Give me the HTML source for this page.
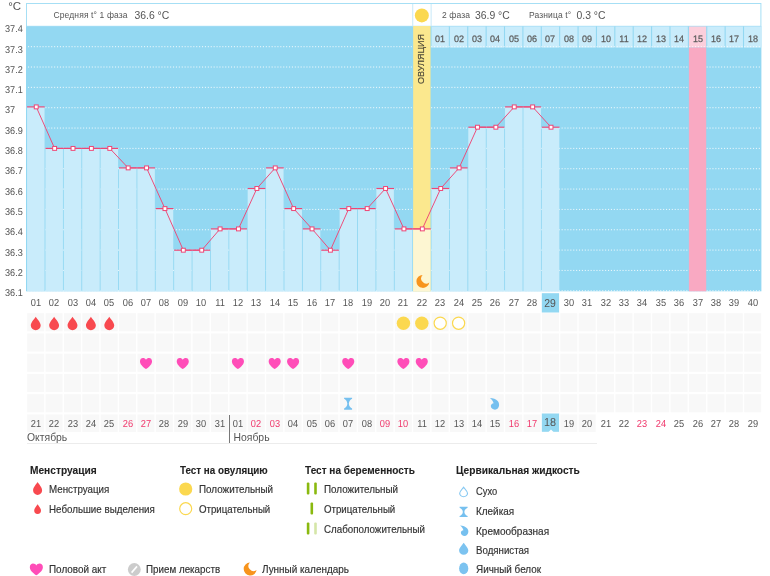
<!DOCTYPE html>
<html><head><meta charset="utf-8"><title>chart</title>
<style>
html,body{margin:0;padding:0;background:#fff;}
body{width:770px;height:576px;position:relative;overflow:hidden;font-family:"Liberation Sans",sans-serif;color:#555;}
.t{position:absolute;white-space:nowrap;line-height:1;}
#tx{position:absolute;left:0;top:0;width:770px;height:576px;will-change:transform;}
.c{position:absolute;white-space:nowrap;line-height:1;text-align:center;width:30px;margin-left:-15px;transform:scaleX(0.91) rotate(0.03deg);}
.yl{font-size:9.9px;left:5.2px;color:#555;transform:scaleX(0.925) rotate(0.03deg);transform-origin:0 50%;}
.dn{font-size:10.2px;color:#555;}
.red{color:#f0386c;}
.lg{font-size:11px;color:#333;-webkit-text-stroke:0.18px #333;transform:scaleX(0.893);transform-origin:0 50%;}
.lh{font-size:11px;font-weight:bold;color:#222;-webkit-text-stroke:0.1px #222;transform:scaleX(0.905);transform-origin:0 50%;}
</style></head><body>
<svg width="770" height="576" viewBox="0 0 770 576" style="position:absolute;left:0;top:0">
<rect x="26.5" y="3.5" width="734.4" height="22.8" fill="#fff" stroke="#a6dff5" stroke-width="1"/>
<rect x="26" y="26.3" width="735.4" height="265.0" fill="#93d8f2"/>
<rect x="431.52" y="26.5" width="17.29" height="21.1" fill="#c9ecfb"/>
<rect x="449.91" y="26.5" width="17.29" height="21.1" fill="#c9ecfb"/>
<rect x="468.29" y="26.5" width="17.29" height="21.1" fill="#c9ecfb"/>
<rect x="486.68" y="26.5" width="17.29" height="21.1" fill="#c9ecfb"/>
<rect x="505.06" y="26.5" width="17.29" height="21.1" fill="#c9ecfb"/>
<rect x="523.45" y="26.5" width="17.29" height="21.1" fill="#c9ecfb"/>
<rect x="541.83" y="26.5" width="17.29" height="21.1" fill="#c9ecfb"/>
<rect x="560.22" y="26.5" width="17.29" height="21.1" fill="#c9ecfb"/>
<rect x="578.60" y="26.5" width="17.29" height="21.1" fill="#c9ecfb"/>
<rect x="596.99" y="26.5" width="17.29" height="21.1" fill="#c9ecfb"/>
<rect x="615.37" y="26.5" width="17.29" height="21.1" fill="#c9ecfb"/>
<rect x="633.75" y="26.5" width="17.29" height="21.1" fill="#c9ecfb"/>
<rect x="652.14" y="26.5" width="17.29" height="21.1" fill="#c9ecfb"/>
<rect x="670.52" y="26.5" width="17.29" height="21.1" fill="#c9ecfb"/>
<rect x="688.91" y="26.5" width="17.29" height="21.1" fill="#fccfdc"/>
<rect x="707.29" y="26.5" width="17.29" height="21.1" fill="#c9ecfb"/>
<rect x="725.68" y="26.5" width="17.29" height="21.1" fill="#c9ecfb"/>
<rect x="744.07" y="26.5" width="17.33" height="21.1" fill="#c9ecfb"/>
<line x1="28" x2="761.4" y1="46.69" y2="46.69" stroke="#fff" stroke-width="1" stroke-dasharray="1.1 1.8" opacity="0.85"/>
<line x1="28" x2="761.4" y1="67.03" y2="67.03" stroke="#fff" stroke-width="1" stroke-dasharray="1.1 1.8" opacity="0.85"/>
<line x1="28" x2="761.4" y1="87.37" y2="87.37" stroke="#fff" stroke-width="1" stroke-dasharray="1.1 1.8" opacity="0.85"/>
<line x1="28" x2="761.4" y1="107.71" y2="107.71" stroke="#fff" stroke-width="1" stroke-dasharray="1.1 1.8" opacity="0.85"/>
<line x1="28" x2="761.4" y1="128.05" y2="128.05" stroke="#fff" stroke-width="1" stroke-dasharray="1.1 1.8" opacity="0.85"/>
<line x1="28" x2="761.4" y1="148.39" y2="148.39" stroke="#fff" stroke-width="1" stroke-dasharray="1.1 1.8" opacity="0.85"/>
<line x1="28" x2="761.4" y1="168.73" y2="168.73" stroke="#fff" stroke-width="1" stroke-dasharray="1.1 1.8" opacity="0.85"/>
<line x1="28" x2="761.4" y1="189.07" y2="189.07" stroke="#fff" stroke-width="1" stroke-dasharray="1.1 1.8" opacity="0.85"/>
<line x1="28" x2="761.4" y1="209.41" y2="209.41" stroke="#fff" stroke-width="1" stroke-dasharray="1.1 1.8" opacity="0.85"/>
<line x1="28" x2="761.4" y1="229.75" y2="229.75" stroke="#fff" stroke-width="1" stroke-dasharray="1.1 1.8" opacity="0.85"/>
<line x1="28" x2="761.4" y1="250.09" y2="250.09" stroke="#fff" stroke-width="1" stroke-dasharray="1.1 1.8" opacity="0.85"/>
<line x1="28" x2="761.4" y1="270.43" y2="270.43" stroke="#fff" stroke-width="1" stroke-dasharray="1.1 1.8" opacity="0.85"/>
<line x1="28" x2="761.4" y1="290.77" y2="290.77" stroke="#fff" stroke-width="1" stroke-dasharray="1.1 1.8" opacity="0.85"/>
<rect x="688.91" y="47.6" width="17.29" height="243.70000000000002" fill="#f9a9c2"/>
<rect x="413.14" y="26" width="17.39" height="265.3" fill="#fbe88e"/>
<rect x="27.05" y="106.90" width="17.49" height="184.40" fill="#c9ecfb"/>
<rect x="45.44" y="148.40" width="17.49" height="142.90" fill="#c9ecfb"/>
<rect x="63.82" y="148.40" width="17.49" height="142.90" fill="#c9ecfb"/>
<rect x="82.20" y="148.40" width="17.49" height="142.90" fill="#c9ecfb"/>
<rect x="100.59" y="148.40" width="17.49" height="142.90" fill="#c9ecfb"/>
<rect x="118.98" y="167.90" width="17.49" height="123.40" fill="#c9ecfb"/>
<rect x="137.36" y="167.90" width="17.49" height="123.40" fill="#c9ecfb"/>
<rect x="155.75" y="208.60" width="17.49" height="82.70" fill="#c9ecfb"/>
<rect x="174.13" y="250.20" width="17.49" height="41.10" fill="#c9ecfb"/>
<rect x="192.52" y="250.20" width="17.49" height="41.10" fill="#c9ecfb"/>
<rect x="210.90" y="228.90" width="17.49" height="62.40" fill="#c9ecfb"/>
<rect x="229.29" y="228.90" width="17.49" height="62.40" fill="#c9ecfb"/>
<rect x="247.67" y="188.50" width="17.49" height="102.80" fill="#c9ecfb"/>
<rect x="266.06" y="167.90" width="17.49" height="123.40" fill="#c9ecfb"/>
<rect x="284.44" y="208.60" width="17.49" height="82.70" fill="#c9ecfb"/>
<rect x="302.83" y="228.90" width="17.49" height="62.40" fill="#c9ecfb"/>
<rect x="321.21" y="250.20" width="17.49" height="41.10" fill="#c9ecfb"/>
<rect x="339.60" y="208.60" width="17.49" height="82.70" fill="#c9ecfb"/>
<rect x="357.98" y="208.60" width="17.49" height="82.70" fill="#c9ecfb"/>
<rect x="376.37" y="188.50" width="17.49" height="102.80" fill="#c9ecfb"/>
<rect x="394.75" y="228.90" width="17.49" height="62.40" fill="#c9ecfb"/>
<rect x="413.14" y="228.90" width="17.39" height="62.40" fill="#fdf6d2"/>
<rect x="431.52" y="188.50" width="17.49" height="102.80" fill="#c9ecfb"/>
<rect x="449.91" y="167.90" width="17.49" height="123.40" fill="#c9ecfb"/>
<rect x="468.29" y="127.20" width="17.49" height="164.10" fill="#c9ecfb"/>
<rect x="486.68" y="127.20" width="17.49" height="164.10" fill="#c9ecfb"/>
<rect x="505.06" y="106.90" width="17.49" height="184.40" fill="#c9ecfb"/>
<rect x="523.45" y="106.90" width="17.49" height="184.40" fill="#c9ecfb"/>
<rect x="541.83" y="127.20" width="17.49" height="164.10" fill="#c9ecfb"/>
<line x1="27.05" x2="44.73" y1="106.90" y2="106.90" stroke="#ee4675" stroke-width="1.15"/>
<line x1="45.44" x2="63.12" y1="148.40" y2="148.40" stroke="#ee4675" stroke-width="1.15"/>
<line x1="63.82" x2="81.50" y1="148.40" y2="148.40" stroke="#ee4675" stroke-width="1.15"/>
<line x1="82.20" x2="99.89" y1="148.40" y2="148.40" stroke="#ee4675" stroke-width="1.15"/>
<line x1="100.59" x2="118.28" y1="148.40" y2="148.40" stroke="#ee4675" stroke-width="1.15"/>
<line x1="118.98" x2="136.66" y1="167.90" y2="167.90" stroke="#ee4675" stroke-width="1.15"/>
<line x1="137.36" x2="155.05" y1="167.90" y2="167.90" stroke="#ee4675" stroke-width="1.15"/>
<line x1="155.75" x2="173.43" y1="208.60" y2="208.60" stroke="#ee4675" stroke-width="1.15"/>
<line x1="174.13" x2="191.82" y1="250.20" y2="250.20" stroke="#ee4675" stroke-width="1.15"/>
<line x1="192.52" x2="210.20" y1="250.20" y2="250.20" stroke="#ee4675" stroke-width="1.15"/>
<line x1="210.90" x2="228.59" y1="228.90" y2="228.90" stroke="#ee4675" stroke-width="1.15"/>
<line x1="229.29" x2="246.97" y1="228.90" y2="228.90" stroke="#ee4675" stroke-width="1.15"/>
<line x1="247.67" x2="265.36" y1="188.50" y2="188.50" stroke="#ee4675" stroke-width="1.15"/>
<line x1="266.06" x2="283.74" y1="167.90" y2="167.90" stroke="#ee4675" stroke-width="1.15"/>
<line x1="284.44" x2="302.13" y1="208.60" y2="208.60" stroke="#ee4675" stroke-width="1.15"/>
<line x1="302.83" x2="320.51" y1="228.90" y2="228.90" stroke="#ee4675" stroke-width="1.15"/>
<line x1="321.21" x2="338.90" y1="250.20" y2="250.20" stroke="#ee4675" stroke-width="1.15"/>
<line x1="339.60" x2="357.28" y1="208.60" y2="208.60" stroke="#ee4675" stroke-width="1.15"/>
<line x1="357.98" x2="375.67" y1="208.60" y2="208.60" stroke="#ee4675" stroke-width="1.15"/>
<line x1="376.37" x2="394.05" y1="188.50" y2="188.50" stroke="#ee4675" stroke-width="1.15"/>
<line x1="394.75" x2="412.44" y1="228.90" y2="228.90" stroke="#ee4675" stroke-width="1.15"/>
<line x1="413.14" x2="430.82" y1="228.90" y2="228.90" stroke="#ee4675" stroke-width="1.15"/>
<line x1="431.52" x2="449.21" y1="188.50" y2="188.50" stroke="#ee4675" stroke-width="1.15"/>
<line x1="449.91" x2="467.59" y1="167.90" y2="167.90" stroke="#ee4675" stroke-width="1.15"/>
<line x1="468.29" x2="485.98" y1="127.20" y2="127.20" stroke="#ee4675" stroke-width="1.15"/>
<line x1="486.68" x2="504.36" y1="127.20" y2="127.20" stroke="#ee4675" stroke-width="1.15"/>
<line x1="505.06" x2="522.75" y1="106.90" y2="106.90" stroke="#ee4675" stroke-width="1.15"/>
<line x1="523.45" x2="541.13" y1="106.90" y2="106.90" stroke="#ee4675" stroke-width="1.15"/>
<line x1="541.83" x2="559.51" y1="127.20" y2="127.20" stroke="#ee4675" stroke-width="1.15"/>
<polyline points="36.24,106.90 54.63,148.40 73.01,148.40 91.40,148.40 109.78,148.40 128.17,167.90 146.55,167.90 164.94,208.60 183.32,250.20 201.71,250.20 220.09,228.90 238.48,228.90 256.86,188.50 275.25,167.90 293.63,208.60 312.02,228.90 330.40,250.20 348.79,208.60 367.17,208.60 385.56,188.50 403.94,228.90 422.33,228.90 440.71,188.50 459.10,167.90 477.48,127.20 495.87,127.20 514.25,106.90 532.64,106.90 551.02,127.20" fill="none" stroke="#ee4675" stroke-width="0.95"/>
<rect x="34.29" y="104.95" width="3.9" height="3.9" fill="#fff" stroke="#ee4675" stroke-width="1.0"/>
<rect x="52.68" y="146.45" width="3.9" height="3.9" fill="#fff" stroke="#ee4675" stroke-width="1.0"/>
<rect x="71.06" y="146.45" width="3.9" height="3.9" fill="#fff" stroke="#ee4675" stroke-width="1.0"/>
<rect x="89.45" y="146.45" width="3.9" height="3.9" fill="#fff" stroke="#ee4675" stroke-width="1.0"/>
<rect x="107.83" y="146.45" width="3.9" height="3.9" fill="#fff" stroke="#ee4675" stroke-width="1.0"/>
<rect x="126.22" y="165.95" width="3.9" height="3.9" fill="#fff" stroke="#ee4675" stroke-width="1.0"/>
<rect x="144.60" y="165.95" width="3.9" height="3.9" fill="#fff" stroke="#ee4675" stroke-width="1.0"/>
<rect x="162.99" y="206.65" width="3.9" height="3.9" fill="#fff" stroke="#ee4675" stroke-width="1.0"/>
<rect x="181.37" y="248.25" width="3.9" height="3.9" fill="#fff" stroke="#ee4675" stroke-width="1.0"/>
<rect x="199.76" y="248.25" width="3.9" height="3.9" fill="#fff" stroke="#ee4675" stroke-width="1.0"/>
<rect x="218.14" y="226.95" width="3.9" height="3.9" fill="#fff" stroke="#ee4675" stroke-width="1.0"/>
<rect x="236.53" y="226.95" width="3.9" height="3.9" fill="#fff" stroke="#ee4675" stroke-width="1.0"/>
<rect x="254.91" y="186.55" width="3.9" height="3.9" fill="#fff" stroke="#ee4675" stroke-width="1.0"/>
<rect x="273.30" y="165.95" width="3.9" height="3.9" fill="#fff" stroke="#ee4675" stroke-width="1.0"/>
<rect x="291.68" y="206.65" width="3.9" height="3.9" fill="#fff" stroke="#ee4675" stroke-width="1.0"/>
<rect x="310.07" y="226.95" width="3.9" height="3.9" fill="#fff" stroke="#ee4675" stroke-width="1.0"/>
<rect x="328.45" y="248.25" width="3.9" height="3.9" fill="#fff" stroke="#ee4675" stroke-width="1.0"/>
<rect x="346.84" y="206.65" width="3.9" height="3.9" fill="#fff" stroke="#ee4675" stroke-width="1.0"/>
<rect x="365.22" y="206.65" width="3.9" height="3.9" fill="#fff" stroke="#ee4675" stroke-width="1.0"/>
<rect x="383.61" y="186.55" width="3.9" height="3.9" fill="#fff" stroke="#ee4675" stroke-width="1.0"/>
<rect x="401.99" y="226.95" width="3.9" height="3.9" fill="#fff" stroke="#ee4675" stroke-width="1.0"/>
<rect x="420.38" y="226.95" width="3.9" height="3.9" fill="#fff" stroke="#ee4675" stroke-width="1.0"/>
<rect x="438.76" y="186.55" width="3.9" height="3.9" fill="#fff" stroke="#ee4675" stroke-width="1.0"/>
<rect x="457.15" y="165.95" width="3.9" height="3.9" fill="#fff" stroke="#ee4675" stroke-width="1.0"/>
<rect x="475.53" y="125.25" width="3.9" height="3.9" fill="#fff" stroke="#ee4675" stroke-width="1.0"/>
<rect x="493.92" y="125.25" width="3.9" height="3.9" fill="#fff" stroke="#ee4675" stroke-width="1.0"/>
<rect x="512.30" y="104.95" width="3.9" height="3.9" fill="#fff" stroke="#ee4675" stroke-width="1.0"/>
<rect x="530.69" y="104.95" width="3.9" height="3.9" fill="#fff" stroke="#ee4675" stroke-width="1.0"/>
<rect x="549.07" y="125.25" width="3.9" height="3.9" fill="#fff" stroke="#ee4675" stroke-width="1.0"/>
<rect x="412.24" y="4" width="1" height="22.3" fill="#c9e9f8"/>
<rect x="430.62" y="4" width="1" height="22.3" fill="#c9e9f8"/>
<circle cx="421.83" cy="15.4" r="7" fill="#fbd84f"/>
<g transform="translate(422.93,281.4)"><path d="M-0.32,-6.49 A6.5,6.5 0 1 0 6.40,1.12 A5.1,5.1 0 0 1 -0.32,-6.49 Z" fill="#f7941d"/></g>
 <rect x="541.83" y="293.2" width="17.24" height="19.3" fill="#93d8f2"/>
<rect x="27.15" y="313.20" width="16.99" height="18.1" fill="#f8f8f8"/>
<rect x="45.54" y="313.20" width="16.99" height="18.1" fill="#f8f8f8"/>
<rect x="63.92" y="313.20" width="16.99" height="18.1" fill="#f8f8f8"/>
<rect x="82.30" y="313.20" width="16.99" height="18.1" fill="#f8f8f8"/>
<rect x="100.69" y="313.20" width="16.99" height="18.1" fill="#f8f8f8"/>
<rect x="119.08" y="313.20" width="16.99" height="18.1" fill="#f8f8f8"/>
<rect x="137.46" y="313.20" width="16.99" height="18.1" fill="#f8f8f8"/>
<rect x="155.85" y="313.20" width="16.99" height="18.1" fill="#f8f8f8"/>
<rect x="174.23" y="313.20" width="16.99" height="18.1" fill="#f8f8f8"/>
<rect x="192.62" y="313.20" width="16.99" height="18.1" fill="#f8f8f8"/>
<rect x="211.00" y="313.20" width="16.99" height="18.1" fill="#f8f8f8"/>
<rect x="229.39" y="313.20" width="16.99" height="18.1" fill="#f8f8f8"/>
<rect x="247.77" y="313.20" width="16.99" height="18.1" fill="#f8f8f8"/>
<rect x="266.16" y="313.20" width="16.99" height="18.1" fill="#f8f8f8"/>
<rect x="284.54" y="313.20" width="16.99" height="18.1" fill="#f8f8f8"/>
<rect x="302.93" y="313.20" width="16.99" height="18.1" fill="#f8f8f8"/>
<rect x="321.31" y="313.20" width="16.99" height="18.1" fill="#f8f8f8"/>
<rect x="339.70" y="313.20" width="16.99" height="18.1" fill="#f8f8f8"/>
<rect x="358.08" y="313.20" width="16.99" height="18.1" fill="#f8f8f8"/>
<rect x="376.47" y="313.20" width="16.99" height="18.1" fill="#f8f8f8"/>
<rect x="394.85" y="313.20" width="16.99" height="18.1" fill="#f8f8f8"/>
<rect x="413.24" y="313.20" width="16.99" height="18.1" fill="#f8f8f8"/>
<rect x="431.62" y="313.20" width="16.99" height="18.1" fill="#f8f8f8"/>
<rect x="450.01" y="313.20" width="16.99" height="18.1" fill="#f8f8f8"/>
<rect x="468.39" y="313.20" width="16.99" height="18.1" fill="#f8f8f8"/>
<rect x="486.78" y="313.20" width="16.99" height="18.1" fill="#f8f8f8"/>
<rect x="505.16" y="313.20" width="16.99" height="18.1" fill="#f8f8f8"/>
<rect x="523.55" y="313.20" width="16.99" height="18.1" fill="#f8f8f8"/>
<rect x="541.93" y="313.20" width="16.99" height="18.1" fill="#f8f8f8"/>
<rect x="560.32" y="313.20" width="16.99" height="18.1" fill="#f8f8f8"/>
<rect x="578.70" y="313.20" width="16.99" height="18.1" fill="#f8f8f8"/>
<rect x="597.09" y="313.20" width="16.99" height="18.1" fill="#f8f8f8"/>
<rect x="615.47" y="313.20" width="16.99" height="18.1" fill="#f8f8f8"/>
<rect x="633.86" y="313.20" width="16.99" height="18.1" fill="#f8f8f8"/>
<rect x="652.24" y="313.20" width="16.99" height="18.1" fill="#f8f8f8"/>
<rect x="670.62" y="313.20" width="16.99" height="18.1" fill="#f8f8f8"/>
<rect x="689.01" y="313.20" width="16.99" height="18.1" fill="#f8f8f8"/>
<rect x="707.39" y="313.20" width="16.99" height="18.1" fill="#f8f8f8"/>
<rect x="725.78" y="313.20" width="16.99" height="18.1" fill="#f8f8f8"/>
<rect x="744.17" y="313.20" width="16.99" height="18.1" fill="#f8f8f8"/>
<rect x="27.15" y="333.45" width="16.99" height="18.1" fill="#f8f8f8"/>
<rect x="45.54" y="333.45" width="16.99" height="18.1" fill="#f8f8f8"/>
<rect x="63.92" y="333.45" width="16.99" height="18.1" fill="#f8f8f8"/>
<rect x="82.30" y="333.45" width="16.99" height="18.1" fill="#f8f8f8"/>
<rect x="100.69" y="333.45" width="16.99" height="18.1" fill="#f8f8f8"/>
<rect x="119.08" y="333.45" width="16.99" height="18.1" fill="#f8f8f8"/>
<rect x="137.46" y="333.45" width="16.99" height="18.1" fill="#f8f8f8"/>
<rect x="155.85" y="333.45" width="16.99" height="18.1" fill="#f8f8f8"/>
<rect x="174.23" y="333.45" width="16.99" height="18.1" fill="#f8f8f8"/>
<rect x="192.62" y="333.45" width="16.99" height="18.1" fill="#f8f8f8"/>
<rect x="211.00" y="333.45" width="16.99" height="18.1" fill="#f8f8f8"/>
<rect x="229.39" y="333.45" width="16.99" height="18.1" fill="#f8f8f8"/>
<rect x="247.77" y="333.45" width="16.99" height="18.1" fill="#f8f8f8"/>
<rect x="266.16" y="333.45" width="16.99" height="18.1" fill="#f8f8f8"/>
<rect x="284.54" y="333.45" width="16.99" height="18.1" fill="#f8f8f8"/>
<rect x="302.93" y="333.45" width="16.99" height="18.1" fill="#f8f8f8"/>
<rect x="321.31" y="333.45" width="16.99" height="18.1" fill="#f8f8f8"/>
<rect x="339.70" y="333.45" width="16.99" height="18.1" fill="#f8f8f8"/>
<rect x="358.08" y="333.45" width="16.99" height="18.1" fill="#f8f8f8"/>
<rect x="376.47" y="333.45" width="16.99" height="18.1" fill="#f8f8f8"/>
<rect x="394.85" y="333.45" width="16.99" height="18.1" fill="#f8f8f8"/>
<rect x="413.24" y="333.45" width="16.99" height="18.1" fill="#f8f8f8"/>
<rect x="431.62" y="333.45" width="16.99" height="18.1" fill="#f8f8f8"/>
<rect x="450.01" y="333.45" width="16.99" height="18.1" fill="#f8f8f8"/>
<rect x="468.39" y="333.45" width="16.99" height="18.1" fill="#f8f8f8"/>
<rect x="486.78" y="333.45" width="16.99" height="18.1" fill="#f8f8f8"/>
<rect x="505.16" y="333.45" width="16.99" height="18.1" fill="#f8f8f8"/>
<rect x="523.55" y="333.45" width="16.99" height="18.1" fill="#f8f8f8"/>
<rect x="541.93" y="333.45" width="16.99" height="18.1" fill="#f8f8f8"/>
<rect x="560.32" y="333.45" width="16.99" height="18.1" fill="#f8f8f8"/>
<rect x="578.70" y="333.45" width="16.99" height="18.1" fill="#f8f8f8"/>
<rect x="597.09" y="333.45" width="16.99" height="18.1" fill="#f8f8f8"/>
<rect x="615.47" y="333.45" width="16.99" height="18.1" fill="#f8f8f8"/>
<rect x="633.86" y="333.45" width="16.99" height="18.1" fill="#f8f8f8"/>
<rect x="652.24" y="333.45" width="16.99" height="18.1" fill="#f8f8f8"/>
<rect x="670.62" y="333.45" width="16.99" height="18.1" fill="#f8f8f8"/>
<rect x="689.01" y="333.45" width="16.99" height="18.1" fill="#f8f8f8"/>
<rect x="707.39" y="333.45" width="16.99" height="18.1" fill="#f8f8f8"/>
<rect x="725.78" y="333.45" width="16.99" height="18.1" fill="#f8f8f8"/>
<rect x="744.17" y="333.45" width="16.99" height="18.1" fill="#f8f8f8"/>
<rect x="27.15" y="353.70" width="16.99" height="18.1" fill="#f8f8f8"/>
<rect x="45.54" y="353.70" width="16.99" height="18.1" fill="#f8f8f8"/>
<rect x="63.92" y="353.70" width="16.99" height="18.1" fill="#f8f8f8"/>
<rect x="82.30" y="353.70" width="16.99" height="18.1" fill="#f8f8f8"/>
<rect x="100.69" y="353.70" width="16.99" height="18.1" fill="#f8f8f8"/>
<rect x="119.08" y="353.70" width="16.99" height="18.1" fill="#f8f8f8"/>
<rect x="137.46" y="353.70" width="16.99" height="18.1" fill="#f8f8f8"/>
<rect x="155.85" y="353.70" width="16.99" height="18.1" fill="#f8f8f8"/>
<rect x="174.23" y="353.70" width="16.99" height="18.1" fill="#f8f8f8"/>
<rect x="192.62" y="353.70" width="16.99" height="18.1" fill="#f8f8f8"/>
<rect x="211.00" y="353.70" width="16.99" height="18.1" fill="#f8f8f8"/>
<rect x="229.39" y="353.70" width="16.99" height="18.1" fill="#f8f8f8"/>
<rect x="247.77" y="353.70" width="16.99" height="18.1" fill="#f8f8f8"/>
<rect x="266.16" y="353.70" width="16.99" height="18.1" fill="#f8f8f8"/>
<rect x="284.54" y="353.70" width="16.99" height="18.1" fill="#f8f8f8"/>
<rect x="302.93" y="353.70" width="16.99" height="18.1" fill="#f8f8f8"/>
<rect x="321.31" y="353.70" width="16.99" height="18.1" fill="#f8f8f8"/>
<rect x="339.70" y="353.70" width="16.99" height="18.1" fill="#f8f8f8"/>
<rect x="358.08" y="353.70" width="16.99" height="18.1" fill="#f8f8f8"/>
<rect x="376.47" y="353.70" width="16.99" height="18.1" fill="#f8f8f8"/>
<rect x="394.85" y="353.70" width="16.99" height="18.1" fill="#f8f8f8"/>
<rect x="413.24" y="353.70" width="16.99" height="18.1" fill="#f8f8f8"/>
<rect x="431.62" y="353.70" width="16.99" height="18.1" fill="#f8f8f8"/>
<rect x="450.01" y="353.70" width="16.99" height="18.1" fill="#f8f8f8"/>
<rect x="468.39" y="353.70" width="16.99" height="18.1" fill="#f8f8f8"/>
<rect x="486.78" y="353.70" width="16.99" height="18.1" fill="#f8f8f8"/>
<rect x="505.16" y="353.70" width="16.99" height="18.1" fill="#f8f8f8"/>
<rect x="523.55" y="353.70" width="16.99" height="18.1" fill="#f8f8f8"/>
<rect x="541.93" y="353.70" width="16.99" height="18.1" fill="#f8f8f8"/>
<rect x="560.32" y="353.70" width="16.99" height="18.1" fill="#f8f8f8"/>
<rect x="578.70" y="353.70" width="16.99" height="18.1" fill="#f8f8f8"/>
<rect x="597.09" y="353.70" width="16.99" height="18.1" fill="#f8f8f8"/>
<rect x="615.47" y="353.70" width="16.99" height="18.1" fill="#f8f8f8"/>
<rect x="633.86" y="353.70" width="16.99" height="18.1" fill="#f8f8f8"/>
<rect x="652.24" y="353.70" width="16.99" height="18.1" fill="#f8f8f8"/>
<rect x="670.62" y="353.70" width="16.99" height="18.1" fill="#f8f8f8"/>
<rect x="689.01" y="353.70" width="16.99" height="18.1" fill="#f8f8f8"/>
<rect x="707.39" y="353.70" width="16.99" height="18.1" fill="#f8f8f8"/>
<rect x="725.78" y="353.70" width="16.99" height="18.1" fill="#f8f8f8"/>
<rect x="744.17" y="353.70" width="16.99" height="18.1" fill="#f8f8f8"/>
<rect x="27.15" y="373.95" width="16.99" height="18.1" fill="#f8f8f8"/>
<rect x="45.54" y="373.95" width="16.99" height="18.1" fill="#f8f8f8"/>
<rect x="63.92" y="373.95" width="16.99" height="18.1" fill="#f8f8f8"/>
<rect x="82.30" y="373.95" width="16.99" height="18.1" fill="#f8f8f8"/>
<rect x="100.69" y="373.95" width="16.99" height="18.1" fill="#f8f8f8"/>
<rect x="119.08" y="373.95" width="16.99" height="18.1" fill="#f8f8f8"/>
<rect x="137.46" y="373.95" width="16.99" height="18.1" fill="#f8f8f8"/>
<rect x="155.85" y="373.95" width="16.99" height="18.1" fill="#f8f8f8"/>
<rect x="174.23" y="373.95" width="16.99" height="18.1" fill="#f8f8f8"/>
<rect x="192.62" y="373.95" width="16.99" height="18.1" fill="#f8f8f8"/>
<rect x="211.00" y="373.95" width="16.99" height="18.1" fill="#f8f8f8"/>
<rect x="229.39" y="373.95" width="16.99" height="18.1" fill="#f8f8f8"/>
<rect x="247.77" y="373.95" width="16.99" height="18.1" fill="#f8f8f8"/>
<rect x="266.16" y="373.95" width="16.99" height="18.1" fill="#f8f8f8"/>
<rect x="284.54" y="373.95" width="16.99" height="18.1" fill="#f8f8f8"/>
<rect x="302.93" y="373.95" width="16.99" height="18.1" fill="#f8f8f8"/>
<rect x="321.31" y="373.95" width="16.99" height="18.1" fill="#f8f8f8"/>
<rect x="339.70" y="373.95" width="16.99" height="18.1" fill="#f8f8f8"/>
<rect x="358.08" y="373.95" width="16.99" height="18.1" fill="#f8f8f8"/>
<rect x="376.47" y="373.95" width="16.99" height="18.1" fill="#f8f8f8"/>
<rect x="394.85" y="373.95" width="16.99" height="18.1" fill="#f8f8f8"/>
<rect x="413.24" y="373.95" width="16.99" height="18.1" fill="#f8f8f8"/>
<rect x="431.62" y="373.95" width="16.99" height="18.1" fill="#f8f8f8"/>
<rect x="450.01" y="373.95" width="16.99" height="18.1" fill="#f8f8f8"/>
<rect x="468.39" y="373.95" width="16.99" height="18.1" fill="#f8f8f8"/>
<rect x="486.78" y="373.95" width="16.99" height="18.1" fill="#f8f8f8"/>
<rect x="505.16" y="373.95" width="16.99" height="18.1" fill="#f8f8f8"/>
<rect x="523.55" y="373.95" width="16.99" height="18.1" fill="#f8f8f8"/>
<rect x="541.93" y="373.95" width="16.99" height="18.1" fill="#f8f8f8"/>
<rect x="560.32" y="373.95" width="16.99" height="18.1" fill="#f8f8f8"/>
<rect x="578.70" y="373.95" width="16.99" height="18.1" fill="#f8f8f8"/>
<rect x="597.09" y="373.95" width="16.99" height="18.1" fill="#f8f8f8"/>
<rect x="615.47" y="373.95" width="16.99" height="18.1" fill="#f8f8f8"/>
<rect x="633.86" y="373.95" width="16.99" height="18.1" fill="#f8f8f8"/>
<rect x="652.24" y="373.95" width="16.99" height="18.1" fill="#f8f8f8"/>
<rect x="670.62" y="373.95" width="16.99" height="18.1" fill="#f8f8f8"/>
<rect x="689.01" y="373.95" width="16.99" height="18.1" fill="#f8f8f8"/>
<rect x="707.39" y="373.95" width="16.99" height="18.1" fill="#f8f8f8"/>
<rect x="725.78" y="373.95" width="16.99" height="18.1" fill="#f8f8f8"/>
<rect x="744.17" y="373.95" width="16.99" height="18.1" fill="#f8f8f8"/>
<rect x="27.15" y="394.20" width="16.99" height="18.1" fill="#f8f8f8"/>
<rect x="45.54" y="394.20" width="16.99" height="18.1" fill="#f8f8f8"/>
<rect x="63.92" y="394.20" width="16.99" height="18.1" fill="#f8f8f8"/>
<rect x="82.30" y="394.20" width="16.99" height="18.1" fill="#f8f8f8"/>
<rect x="100.69" y="394.20" width="16.99" height="18.1" fill="#f8f8f8"/>
<rect x="119.08" y="394.20" width="16.99" height="18.1" fill="#f8f8f8"/>
<rect x="137.46" y="394.20" width="16.99" height="18.1" fill="#f8f8f8"/>
<rect x="155.85" y="394.20" width="16.99" height="18.1" fill="#f8f8f8"/>
<rect x="174.23" y="394.20" width="16.99" height="18.1" fill="#f8f8f8"/>
<rect x="192.62" y="394.20" width="16.99" height="18.1" fill="#f8f8f8"/>
<rect x="211.00" y="394.20" width="16.99" height="18.1" fill="#f8f8f8"/>
<rect x="229.39" y="394.20" width="16.99" height="18.1" fill="#f8f8f8"/>
<rect x="247.77" y="394.20" width="16.99" height="18.1" fill="#f8f8f8"/>
<rect x="266.16" y="394.20" width="16.99" height="18.1" fill="#f8f8f8"/>
<rect x="284.54" y="394.20" width="16.99" height="18.1" fill="#f8f8f8"/>
<rect x="302.93" y="394.20" width="16.99" height="18.1" fill="#f8f8f8"/>
<rect x="321.31" y="394.20" width="16.99" height="18.1" fill="#f8f8f8"/>
<rect x="339.70" y="394.20" width="16.99" height="18.1" fill="#f8f8f8"/>
<rect x="358.08" y="394.20" width="16.99" height="18.1" fill="#f8f8f8"/>
<rect x="376.47" y="394.20" width="16.99" height="18.1" fill="#f8f8f8"/>
<rect x="394.85" y="394.20" width="16.99" height="18.1" fill="#f8f8f8"/>
<rect x="413.24" y="394.20" width="16.99" height="18.1" fill="#f8f8f8"/>
<rect x="431.62" y="394.20" width="16.99" height="18.1" fill="#f8f8f8"/>
<rect x="450.01" y="394.20" width="16.99" height="18.1" fill="#f8f8f8"/>
<rect x="468.39" y="394.20" width="16.99" height="18.1" fill="#f8f8f8"/>
<rect x="486.78" y="394.20" width="16.99" height="18.1" fill="#f8f8f8"/>
<rect x="505.16" y="394.20" width="16.99" height="18.1" fill="#f8f8f8"/>
<rect x="523.55" y="394.20" width="16.99" height="18.1" fill="#f8f8f8"/>
<rect x="541.93" y="394.20" width="16.99" height="18.1" fill="#f8f8f8"/>
<rect x="560.32" y="394.20" width="16.99" height="18.1" fill="#f8f8f8"/>
<rect x="578.70" y="394.20" width="16.99" height="18.1" fill="#f8f8f8"/>
<rect x="597.09" y="394.20" width="16.99" height="18.1" fill="#f8f8f8"/>
<rect x="615.47" y="394.20" width="16.99" height="18.1" fill="#f8f8f8"/>
<rect x="633.86" y="394.20" width="16.99" height="18.1" fill="#f8f8f8"/>
<rect x="652.24" y="394.20" width="16.99" height="18.1" fill="#f8f8f8"/>
<rect x="670.62" y="394.20" width="16.99" height="18.1" fill="#f8f8f8"/>
<rect x="689.01" y="394.20" width="16.99" height="18.1" fill="#f8f8f8"/>
<rect x="707.39" y="394.20" width="16.99" height="18.1" fill="#f8f8f8"/>
<rect x="725.78" y="394.20" width="16.99" height="18.1" fill="#f8f8f8"/>
<rect x="744.17" y="394.20" width="16.99" height="18.1" fill="#f8f8f8"/>
<rect x="27.15" y="414.4" width="16.99" height="17.6" fill="#f8f8f8"/>
<rect x="45.54" y="414.4" width="16.99" height="17.6" fill="#f8f8f8"/>
<rect x="63.92" y="414.4" width="16.99" height="17.6" fill="#f8f8f8"/>
<rect x="82.30" y="414.4" width="16.99" height="17.6" fill="#f8f8f8"/>
<rect x="100.69" y="414.4" width="16.99" height="17.6" fill="#f8f8f8"/>
<rect x="119.08" y="414.4" width="16.99" height="17.6" fill="#f8f8f8"/>
<rect x="137.46" y="414.4" width="16.99" height="17.6" fill="#f8f8f8"/>
<rect x="155.85" y="414.4" width="16.99" height="17.6" fill="#f8f8f8"/>
<rect x="174.23" y="414.4" width="16.99" height="17.6" fill="#f8f8f8"/>
<rect x="192.62" y="414.4" width="16.99" height="17.6" fill="#f8f8f8"/>
<rect x="211.00" y="414.4" width="16.99" height="17.6" fill="#f8f8f8"/>
<rect x="229.39" y="414.4" width="16.99" height="17.6" fill="#f8f8f8"/>
<rect x="247.77" y="414.4" width="16.99" height="17.6" fill="#f8f8f8"/>
<rect x="266.16" y="414.4" width="16.99" height="17.6" fill="#f8f8f8"/>
<rect x="284.54" y="414.4" width="16.99" height="17.6" fill="#f8f8f8"/>
<rect x="302.93" y="414.4" width="16.99" height="17.6" fill="#f8f8f8"/>
<rect x="321.31" y="414.4" width="16.99" height="17.6" fill="#f8f8f8"/>
<rect x="339.70" y="414.4" width="16.99" height="17.6" fill="#f8f8f8"/>
<rect x="358.08" y="414.4" width="16.99" height="17.6" fill="#f8f8f8"/>
<rect x="376.47" y="414.4" width="16.99" height="17.6" fill="#f8f8f8"/>
<rect x="394.85" y="414.4" width="16.99" height="17.6" fill="#f8f8f8"/>
<rect x="413.24" y="414.4" width="16.99" height="17.6" fill="#f8f8f8"/>
<rect x="431.62" y="414.4" width="16.99" height="17.6" fill="#f8f8f8"/>
<rect x="450.01" y="414.4" width="16.99" height="17.6" fill="#f8f8f8"/>
<rect x="468.39" y="414.4" width="16.99" height="17.6" fill="#f8f8f8"/>
<rect x="486.78" y="414.4" width="16.99" height="17.6" fill="#f8f8f8"/>
<rect x="505.16" y="414.4" width="16.99" height="17.6" fill="#f8f8f8"/>
<rect x="523.55" y="414.4" width="16.99" height="17.6" fill="#f8f8f8"/>
<rect x="541.93" y="414.4" width="16.99" height="17.6" fill="#f8f8f8"/>
<rect x="560.32" y="414.4" width="16.99" height="17.6" fill="#f8f8f8"/>
<rect x="578.70" y="414.4" width="16.99" height="17.6" fill="#f8f8f8"/>
 <rect x="541.83" y="413.5" width="17.24" height="18.3" fill="#93d8f2"/>
<path d="M548.52,432 L551.02,429.5 L553.52,432 Z" fill="#fff"/>
<line x1="229.49" x2="229.49" y1="415" y2="443" stroke="#777" stroke-width="1"/>
<line x1="27" x2="596.99" y1="443.5" y2="443.5" stroke="#ececec" stroke-width="1"/>
<g transform="translate(35.74,323.4) scale(0.99,0.95)"><path transform="translate(0.00,0.00) scale(1)" d="M0,-7 C1.5,-4.5 5,-1 5,2.2 A5,5 0 0 1 -5,2.2 C-5,-1 -1.5,-4.5 0,-7 Z" fill="#f8494f"/></g>
<g transform="translate(54.13,323.4) scale(0.99,0.95)"><path transform="translate(0.00,0.00) scale(1)" d="M0,-7 C1.5,-4.5 5,-1 5,2.2 A5,5 0 0 1 -5,2.2 C-5,-1 -1.5,-4.5 0,-7 Z" fill="#f8494f"/></g>
<g transform="translate(72.51,323.4) scale(0.99,0.95)"><path transform="translate(0.00,0.00) scale(1)" d="M0,-7 C1.5,-4.5 5,-1 5,2.2 A5,5 0 0 1 -5,2.2 C-5,-1 -1.5,-4.5 0,-7 Z" fill="#f8494f"/></g>
<g transform="translate(90.90,323.4) scale(0.99,0.95)"><path transform="translate(0.00,0.00) scale(1)" d="M0,-7 C1.5,-4.5 5,-1 5,2.2 A5,5 0 0 1 -5,2.2 C-5,-1 -1.5,-4.5 0,-7 Z" fill="#f8494f"/></g>
<g transform="translate(109.28,323.4) scale(0.99,0.95)"><path transform="translate(0.00,0.00) scale(1)" d="M0,-7 C1.5,-4.5 5,-1 5,2.2 A5,5 0 0 1 -5,2.2 C-5,-1 -1.5,-4.5 0,-7 Z" fill="#f8494f"/></g>
<path transform="translate(146.00,363.50) scale(1)" d="M0,5.4 C-0.8,4.9 -6.05,1.6 -6.05,-2.1 C-6.05,-4.3 -4.6,-5.5 -3.1,-5.5 C-1.7,-5.5 -0.6,-4.8 0,-3.8 C0.6,-4.8 1.7,-5.5 3.1,-5.5 C4.6,-5.5 6.05,-4.3 6.05,-2.1 C6.05,1.6 0.8,4.9 0,5.4 Z" fill="#ff4db8"/>
<path transform="translate(182.77,363.50) scale(1)" d="M0,5.4 C-0.8,4.9 -6.05,1.6 -6.05,-2.1 C-6.05,-4.3 -4.6,-5.5 -3.1,-5.5 C-1.7,-5.5 -0.6,-4.8 0,-3.8 C0.6,-4.8 1.7,-5.5 3.1,-5.5 C4.6,-5.5 6.05,-4.3 6.05,-2.1 C6.05,1.6 0.8,4.9 0,5.4 Z" fill="#ff4db8"/>
<path transform="translate(237.93,363.50) scale(1)" d="M0,5.4 C-0.8,4.9 -6.05,1.6 -6.05,-2.1 C-6.05,-4.3 -4.6,-5.5 -3.1,-5.5 C-1.7,-5.5 -0.6,-4.8 0,-3.8 C0.6,-4.8 1.7,-5.5 3.1,-5.5 C4.6,-5.5 6.05,-4.3 6.05,-2.1 C6.05,1.6 0.8,4.9 0,5.4 Z" fill="#ff4db8"/>
<path transform="translate(274.70,363.50) scale(1)" d="M0,5.4 C-0.8,4.9 -6.05,1.6 -6.05,-2.1 C-6.05,-4.3 -4.6,-5.5 -3.1,-5.5 C-1.7,-5.5 -0.6,-4.8 0,-3.8 C0.6,-4.8 1.7,-5.5 3.1,-5.5 C4.6,-5.5 6.05,-4.3 6.05,-2.1 C6.05,1.6 0.8,4.9 0,5.4 Z" fill="#ff4db8"/>
<path transform="translate(293.08,363.50) scale(1)" d="M0,5.4 C-0.8,4.9 -6.05,1.6 -6.05,-2.1 C-6.05,-4.3 -4.6,-5.5 -3.1,-5.5 C-1.7,-5.5 -0.6,-4.8 0,-3.8 C0.6,-4.8 1.7,-5.5 3.1,-5.5 C4.6,-5.5 6.05,-4.3 6.05,-2.1 C6.05,1.6 0.8,4.9 0,5.4 Z" fill="#ff4db8"/>
<path transform="translate(348.24,363.50) scale(1)" d="M0,5.4 C-0.8,4.9 -6.05,1.6 -6.05,-2.1 C-6.05,-4.3 -4.6,-5.5 -3.1,-5.5 C-1.7,-5.5 -0.6,-4.8 0,-3.8 C0.6,-4.8 1.7,-5.5 3.1,-5.5 C4.6,-5.5 6.05,-4.3 6.05,-2.1 C6.05,1.6 0.8,4.9 0,5.4 Z" fill="#ff4db8"/>
<path transform="translate(403.39,363.50) scale(1)" d="M0,5.4 C-0.8,4.9 -6.05,1.6 -6.05,-2.1 C-6.05,-4.3 -4.6,-5.5 -3.1,-5.5 C-1.7,-5.5 -0.6,-4.8 0,-3.8 C0.6,-4.8 1.7,-5.5 3.1,-5.5 C4.6,-5.5 6.05,-4.3 6.05,-2.1 C6.05,1.6 0.8,4.9 0,5.4 Z" fill="#ff4db8"/>
<path transform="translate(421.78,363.50) scale(1)" d="M0,5.4 C-0.8,4.9 -6.05,1.6 -6.05,-2.1 C-6.05,-4.3 -4.6,-5.5 -3.1,-5.5 C-1.7,-5.5 -0.6,-4.8 0,-3.8 C0.6,-4.8 1.7,-5.5 3.1,-5.5 C4.6,-5.5 6.05,-4.3 6.05,-2.1 C6.05,1.6 0.8,4.9 0,5.4 Z" fill="#ff4db8"/>
<circle cx="403.44" cy="323.2" r="6.7" fill="#fbd84f"/>
<circle cx="421.83" cy="323.2" r="6.7" fill="#fbd84f"/>
<circle cx="440.21" cy="323.2" r="6.1" fill="#fff" stroke="#fbd84f" stroke-width="1.2"/>
<circle cx="458.60" cy="323.2" r="6.1" fill="#fff" stroke="#fbd84f" stroke-width="1.2"/>
<path transform="translate(348.09,403.70) scale(1,1)" d="M-4,-6 L4,-6 L4,-4.9 C2.4,-4 0.9,-2.6 0.75,0 C0.9,2.6 2.4,4 4,4.9 L4,6 L-4,6 L-4,4.9 C-2.4,4 -0.9,2.6 -0.75,0 C-0.9,-2.6 -2.4,-4 -4,-4.9 Z" fill="#76c0ef"/>
<path transform="translate(494.50,403.70) scale(1)" d="M-4.56,-5.73 C-1.5,-5.6 1.5,-4.6 3.2,-2.6 C4.3,-1.3 4.7,0.2 4.6,1.6 C4.4,4.2 2.6,5.96 0.5,5.96 C-1.8,5.96 -3.7,4.4 -3.7,2.4 C-3.7,0.8 -2.4,-0.3 -0.86,-0.47 C-1.3,-2.2 -2.6,-4.2 -4.56,-5.73 Z" fill="#76c0ef"/>
<path transform="translate(37.60,488.40) scale(0.9)" d="M0,-7 C1.5,-4.5 5,-1 5,2.2 A5,5 0 0 1 -5,2.2 C-5,-1 -1.5,-4.5 0,-7 Z" fill="#f8494f"/>
<path transform="translate(37.60,509.00) scale(0.68)" d="M0,-7 C1.5,-4.5 5,-1 5,2.2 A5,5 0 0 1 -5,2.2 C-5,-1 -1.5,-4.5 0,-7 Z" fill="#f8494f"/>
<circle cx="185.7" cy="489" r="6.6" fill="#fbd84f"/>
<circle cx="185.7" cy="508.7" r="6" fill="#fff" stroke="#fbd84f" stroke-width="1.2"/>
<rect x="306.8" y="482.5" width="2.6" height="12" rx="1" fill="#8ab90f"/>
<rect x="314.2" y="482.5" width="2.6" height="12" rx="1" fill="#8ab90f"/>
<rect x="310.5" y="502.5" width="2.6" height="12" rx="1" fill="#8ab90f"/>
<rect x="306.8" y="522.5" width="2.6" height="12" rx="1" fill="#8ab90f"/>
<rect x="314.2" y="522.5" width="2.6" height="12" rx="1" fill="#d5e6a8"/>
<path transform="translate(463.6,491.9) scale(0.78,0.66)" d="M0,-7 C1.5,-4.5 5,-1 5,2.2 A5,5 0 0 1 -5,2.2 C-5,-1 -1.5,-4.5 0,-7 Z" fill="#fff" stroke="#86c8f2" stroke-width="1.5"/>
<path transform="translate(463.60,511.90) scale(1,0.84)" d="M-4,-6 L4,-6 L4,-4.9 C2.4,-4 0.9,-2.6 0.75,0 C0.9,2.6 2.4,4 4,4.9 L4,6 L-4,6 L-4,4.9 C-2.4,4 -0.9,2.6 -0.75,0 C-0.9,-2.6 -2.4,-4 -4,-4.9 Z" fill="#76c0ef"/>
<path transform="translate(464.20,530.60) scale(0.9)" d="M-4.56,-5.73 C-1.5,-5.6 1.5,-4.6 3.2,-2.6 C4.3,-1.3 4.7,0.2 4.6,1.6 C4.4,4.2 2.6,5.96 0.5,5.96 C-1.8,5.96 -3.7,4.4 -3.7,2.4 C-3.7,0.8 -2.4,-0.3 -0.86,-0.47 C-1.3,-2.2 -2.6,-4.2 -4.56,-5.73 Z" fill="#76c0ef"/>
<g transform="translate(463.7,548.6) scale(0.92,0.85)"><path transform="translate(0.00,0.00) scale(1)" d="M0,-7 C1.5,-4.5 5,-1 5,2.2 A5,5 0 0 1 -5,2.2 C-5,-1 -1.5,-4.5 0,-7 Z" fill="#7cc3f0"/></g>
<ellipse cx="463.7" cy="568.4" rx="4.6" ry="5.8" fill="#7cc3f0"/>
<path transform="translate(36.35,569.50) scale(1.08)" d="M0,5.4 C-0.8,4.9 -6.05,1.6 -6.05,-2.1 C-6.05,-4.3 -4.6,-5.5 -3.1,-5.5 C-1.7,-5.5 -0.6,-4.8 0,-3.8 C0.6,-4.8 1.7,-5.5 3.1,-5.5 C4.6,-5.5 6.05,-4.3 6.05,-2.1 C6.05,1.6 0.8,4.9 0,5.4 Z" fill="#ff4db8"/>
<circle cx="134.3" cy="569.5" r="6.4" fill="#cccccc"/><line x1="131.6" y1="572.6" x2="137" y2="566.4" stroke="#fff" stroke-width="1.6"/>
<g transform="translate(250.2,569)"><path d="M-0.32,-6.49 A6.5,6.5 0 1 0 6.40,1.12 A5.1,5.1 0 0 1 -0.32,-6.49 Z" fill="#f7941d"/></g>
</svg>
<div id="tx">
<div class="t" style="left:8.2px;top:0.7px;font-size:11.5px;">°C</div>
<div class="t yl" style="top:24.2px;">37.4</div>
<div class="t yl" style="top:44.5px;">37.3</div>
<div class="t yl" style="top:64.8px;">37.2</div>
<div class="t yl" style="top:85.1px;">37.1</div>
<div class="t yl" style="top:105.4px;">37</div>
<div class="t yl" style="top:125.8px;">36.9</div>
<div class="t yl" style="top:146.1px;">36.8</div>
<div class="t yl" style="top:166.4px;">36.7</div>
<div class="t yl" style="top:186.7px;">36.6</div>
<div class="t yl" style="top:207.0px;">36.5</div>
<div class="t yl" style="top:227.3px;">36.4</div>
<div class="t yl" style="top:247.6px;">36.3</div>
<div class="t yl" style="top:267.9px;">36.2</div>
<div class="t yl" style="top:288.2px;">36.1</div>
<div class="t" style="left:53.5px;top:10.9px;font-size:8.5px;letter-spacing:0.12px;">Средняя t° 1 фаза</div>
<div class="t" style="left:134.5px;top:10.6px;font-size:10.4px;">36.6 °C</div>
<div class="t" style="left:442px;top:10.9px;font-size:8.5px;letter-spacing:0.12px;">2 фаза</div>
<div class="t" style="left:475px;top:10.6px;font-size:10.4px;">36.9 °C</div>
<div class="t" style="left:529px;top:10.9px;font-size:8.5px;letter-spacing:0.12px;">Разница t°</div>
<div class="t" style="left:576.5px;top:10.6px;font-size:10.4px;">0.3 °C</div>
<div class="c dn" style="left:440.1px;top:34.2px;font-size:9.4px;transform:scaleX(0.96) rotate(0.03deg);color:#555;-webkit-text-stroke:0.25px #666;">01</div>
<div class="c dn" style="left:458.5px;top:34.2px;font-size:9.4px;transform:scaleX(0.96) rotate(0.03deg);color:#555;-webkit-text-stroke:0.25px #666;">02</div>
<div class="c dn" style="left:476.9px;top:34.2px;font-size:9.4px;transform:scaleX(0.96) rotate(0.03deg);color:#555;-webkit-text-stroke:0.25px #666;">03</div>
<div class="c dn" style="left:495.3px;top:34.2px;font-size:9.4px;transform:scaleX(0.96) rotate(0.03deg);color:#555;-webkit-text-stroke:0.25px #666;">04</div>
<div class="c dn" style="left:513.7px;top:34.2px;font-size:9.4px;transform:scaleX(0.96) rotate(0.03deg);color:#555;-webkit-text-stroke:0.25px #666;">05</div>
<div class="c dn" style="left:532.0px;top:34.2px;font-size:9.4px;transform:scaleX(0.96) rotate(0.03deg);color:#555;-webkit-text-stroke:0.25px #666;">06</div>
<div class="c dn" style="left:550.4px;top:34.2px;font-size:9.4px;transform:scaleX(0.96) rotate(0.03deg);color:#555;-webkit-text-stroke:0.25px #666;">07</div>
<div class="c dn" style="left:568.8px;top:34.2px;font-size:9.4px;transform:scaleX(0.96) rotate(0.03deg);color:#555;-webkit-text-stroke:0.25px #666;">08</div>
<div class="c dn" style="left:587.2px;top:34.2px;font-size:9.4px;transform:scaleX(0.96) rotate(0.03deg);color:#555;-webkit-text-stroke:0.25px #666;">09</div>
<div class="c dn" style="left:605.6px;top:34.2px;font-size:9.4px;transform:scaleX(0.96) rotate(0.03deg);color:#555;-webkit-text-stroke:0.25px #666;">10</div>
<div class="c dn" style="left:624.0px;top:34.2px;font-size:9.4px;transform:scaleX(0.96) rotate(0.03deg);color:#555;-webkit-text-stroke:0.25px #666;">11</div>
<div class="c dn" style="left:642.3px;top:34.2px;font-size:9.4px;transform:scaleX(0.96) rotate(0.03deg);color:#555;-webkit-text-stroke:0.25px #666;">12</div>
<div class="c dn" style="left:660.7px;top:34.2px;font-size:9.4px;transform:scaleX(0.96) rotate(0.03deg);color:#555;-webkit-text-stroke:0.25px #666;">13</div>
<div class="c dn" style="left:679.1px;top:34.2px;font-size:9.4px;transform:scaleX(0.96) rotate(0.03deg);color:#555;-webkit-text-stroke:0.25px #666;">14</div>
<div class="c dn" style="left:697.5px;top:34.2px;font-size:9.4px;transform:scaleX(0.96) rotate(0.03deg);color:#555;-webkit-text-stroke:0.25px #666;">15</div>
<div class="c dn" style="left:715.9px;top:34.2px;font-size:9.4px;transform:scaleX(0.96) rotate(0.03deg);color:#555;-webkit-text-stroke:0.25px #666;">16</div>
<div class="c dn" style="left:734.3px;top:34.2px;font-size:9.4px;transform:scaleX(0.96) rotate(0.03deg);color:#555;-webkit-text-stroke:0.25px #666;">17</div>
<div class="c dn" style="left:752.7px;top:34.2px;font-size:9.4px;transform:scaleX(0.96) rotate(0.03deg);color:#555;-webkit-text-stroke:0.25px #666;">18</div>
<div class="t" style="left:422.4px;top:58.8px;font-size:9.3px;color:#4a4638;-webkit-text-stroke:0.15px #4a4638;transform:translate(-50%,-50%) rotate(-90deg) scaleX(0.965);">ОВУЛЯЦИЯ</div>
<div class="c dn" style="left:35.7px;top:298.1px;">01</div>
<div class="c dn" style="left:54.1px;top:298.1px;">02</div>
<div class="c dn" style="left:72.5px;top:298.1px;">03</div>
<div class="c dn" style="left:90.9px;top:298.1px;">04</div>
<div class="c dn" style="left:109.3px;top:298.1px;">05</div>
<div class="c dn" style="left:127.7px;top:298.1px;">06</div>
<div class="c dn" style="left:146.1px;top:298.1px;">07</div>
<div class="c dn" style="left:164.4px;top:298.1px;">08</div>
<div class="c dn" style="left:182.8px;top:298.1px;">09</div>
<div class="c dn" style="left:201.2px;top:298.1px;">10</div>
<div class="c dn" style="left:219.6px;top:298.1px;">11</div>
<div class="c dn" style="left:238.0px;top:298.1px;">12</div>
<div class="c dn" style="left:256.4px;top:298.1px;">13</div>
<div class="c dn" style="left:274.7px;top:298.1px;">14</div>
<div class="c dn" style="left:293.1px;top:298.1px;">15</div>
<div class="c dn" style="left:311.5px;top:298.1px;">16</div>
<div class="c dn" style="left:329.9px;top:298.1px;">17</div>
<div class="c dn" style="left:348.3px;top:298.1px;">18</div>
<div class="c dn" style="left:366.7px;top:298.1px;">19</div>
<div class="c dn" style="left:385.1px;top:298.1px;">20</div>
<div class="c dn" style="left:403.4px;top:298.1px;">21</div>
<div class="c dn" style="left:421.8px;top:298.1px;">22</div>
<div class="c dn" style="left:440.2px;top:298.1px;">23</div>
<div class="c dn" style="left:458.6px;top:298.1px;">24</div>
<div class="c dn" style="left:477.0px;top:298.1px;">25</div>
<div class="c dn" style="left:495.4px;top:298.1px;">26</div>
<div class="c dn" style="left:513.8px;top:298.1px;">27</div>
<div class="c dn" style="left:532.1px;top:298.1px;">28</div>
<div class="c" style="left:549.5px;top:298px;font-size:11.5px;transform:scaleX(0.91) rotate(0.03deg);">29</div>
<div class="c dn" style="left:568.9px;top:298.1px;">30</div>
<div class="c dn" style="left:587.3px;top:298.1px;">31</div>
<div class="c dn" style="left:605.7px;top:298.1px;">32</div>
<div class="c dn" style="left:624.1px;top:298.1px;">33</div>
<div class="c dn" style="left:642.4px;top:298.1px;">34</div>
<div class="c dn" style="left:660.8px;top:298.1px;">35</div>
<div class="c dn" style="left:679.2px;top:298.1px;">36</div>
<div class="c dn" style="left:697.6px;top:298.1px;">37</div>
<div class="c dn" style="left:716.0px;top:298.1px;">38</div>
<div class="c dn" style="left:734.4px;top:298.1px;">39</div>
<div class="c dn" style="left:752.8px;top:298.1px;">40</div>
<div class="c dn" style="left:35.7px;top:419.3px;">21</div>
<div class="c dn" style="left:54.1px;top:419.3px;">22</div>
<div class="c dn" style="left:72.5px;top:419.3px;">23</div>
<div class="c dn" style="left:90.9px;top:419.3px;">24</div>
<div class="c dn" style="left:109.3px;top:419.3px;">25</div>
<div class="c dn red" style="left:127.7px;top:419.3px;">26</div>
<div class="c dn red" style="left:146.1px;top:419.3px;">27</div>
<div class="c dn" style="left:164.4px;top:419.3px;">28</div>
<div class="c dn" style="left:182.8px;top:419.3px;">29</div>
<div class="c dn" style="left:201.2px;top:419.3px;">30</div>
<div class="c dn" style="left:219.6px;top:419.3px;">31</div>
<div class="c dn" style="left:238.0px;top:419.3px;">01</div>
<div class="c dn red" style="left:256.4px;top:419.3px;">02</div>
<div class="c dn red" style="left:274.7px;top:419.3px;">03</div>
<div class="c dn" style="left:293.1px;top:419.3px;">04</div>
<div class="c dn" style="left:311.5px;top:419.3px;">05</div>
<div class="c dn" style="left:329.9px;top:419.3px;">06</div>
<div class="c dn" style="left:348.3px;top:419.3px;">07</div>
<div class="c dn" style="left:366.7px;top:419.3px;">08</div>
<div class="c dn red" style="left:385.1px;top:419.3px;">09</div>
<div class="c dn red" style="left:403.4px;top:419.3px;">10</div>
<div class="c dn" style="left:421.8px;top:419.3px;">11</div>
<div class="c dn" style="left:440.2px;top:419.3px;">12</div>
<div class="c dn" style="left:458.6px;top:419.3px;">13</div>
<div class="c dn" style="left:477.0px;top:419.3px;">14</div>
<div class="c dn" style="left:495.4px;top:419.3px;">15</div>
<div class="c dn red" style="left:513.8px;top:419.3px;">16</div>
<div class="c dn red" style="left:532.1px;top:419.3px;">17</div>
<div class="c" style="left:549.8px;top:417px;font-size:11.5px;transform:scaleX(0.94) rotate(0.03deg);">18</div>
<div class="c dn" style="left:568.9px;top:419.3px;">19</div>
<div class="c dn" style="left:587.3px;top:419.3px;">20</div>
<div class="c dn" style="left:605.7px;top:419.3px;">21</div>
<div class="c dn" style="left:624.1px;top:419.3px;">22</div>
<div class="c dn red" style="left:642.4px;top:419.3px;">23</div>
<div class="c dn red" style="left:660.8px;top:419.3px;">24</div>
<div class="c dn" style="left:679.2px;top:419.3px;">25</div>
<div class="c dn" style="left:697.6px;top:419.3px;">26</div>
<div class="c dn" style="left:716.0px;top:419.3px;">27</div>
<div class="c dn" style="left:734.4px;top:419.3px;">28</div>
<div class="c dn" style="left:752.8px;top:419.3px;">29</div>
<div class="t" style="left:27px;top:433.4px;font-size:10.4px;">Октябрь</div>
<div class="t" style="left:233.5px;top:433.4px;font-size:10.4px;">Ноябрь</div>
<div class="t lh" style="left:30.0px;top:464.5px;transform:scaleX(0.924);">Менструация</div>
<div class="t lg" style="left:49.3px;top:483.8px;transform:scaleX(0.888);">Менструация</div>
<div class="t lg" style="left:49.3px;top:503.7px;transform:scaleX(0.889);">Небольшие выделения</div>
<div class="t lh" style="left:179.6px;top:464.5px;transform:scaleX(0.894);">Тест на овуляцию</div>
<div class="t lg" style="left:198.6px;top:483.8px;transform:scaleX(0.895);">Положительный</div>
<div class="t lg" style="left:198.6px;top:503.7px;transform:scaleX(0.880);">Отрицательный</div>
<div class="t lh" style="left:304.8px;top:464.5px;transform:scaleX(0.912);">Тест на беременность</div>
<div class="t lg" style="left:324.0px;top:483.8px;transform:scaleX(0.895);">Положительный</div>
<div class="t lg" style="left:324.0px;top:503.7px;transform:scaleX(0.880);">Отрицательный</div>
<div class="t lg" style="left:324.0px;top:523.5px;transform:scaleX(0.888);">Слабоположительный</div>
<div class="t lh" style="left:455.6px;top:464.5px;transform:scaleX(0.925);">Цервикальная жидкость</div>
<div class="t lg" style="left:475.9px;top:485.7px;transform:scaleX(0.850);">Сухо</div>
<div class="t lg" style="left:475.9px;top:505.5px;transform:scaleX(0.903);">Клейкая</div>
<div class="t lg" style="left:475.9px;top:525.5px;transform:scaleX(0.913);">Кремообразная</div>
<div class="t lg" style="left:475.9px;top:544.5px;transform:scaleX(0.881);">Водянистая</div>
<div class="t lg" style="left:475.9px;top:564.0px;transform:scaleX(0.898);">Яичный белок</div>
<div class="t lg" style="left:49.3px;top:564.0px;transform:scaleX(0.901);">Половой акт</div>
<div class="t lg" style="left:145.9px;top:564.0px;transform:scaleX(0.892);">Прием лекарств</div>
<div class="t lg" style="left:261.8px;top:564.0px;transform:scaleX(0.903);">Лунный календарь</div>
</div>
</body></html>
